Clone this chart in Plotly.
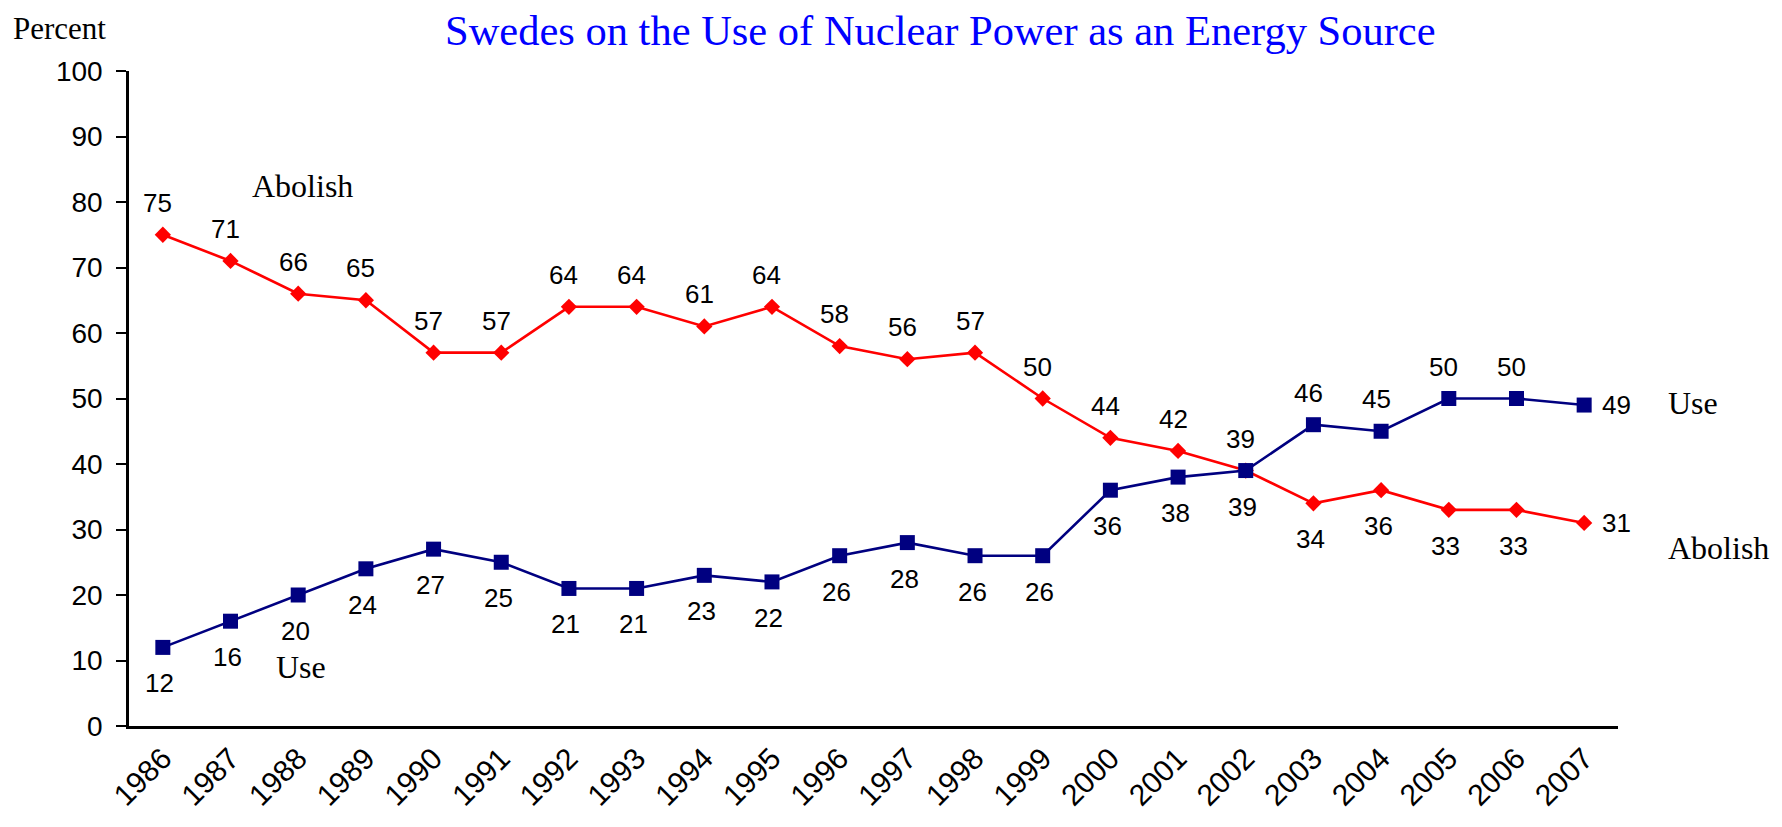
import plotly.graph_objects as go

years = list(range(1986, 2008))
abolish = [75, 71, 66, 65, 57, 57, 64, 64, 61, 64, 58, 56, 57, 50, 44, 42, 39, 34, 36, 33, 33, 31]
use = [12, 16, 20, 24, 27, 25, 21, 21, 23, 22, 26, 28, 26, 26, 36, 38, 39, 46, 45, 50, 50, 49]
y_ticks = list(range(0, 101, 10))

TITLE = "Swedes on the Use of Nuclear Power as an Energy Source"
SANS = "Arial, 'Liberation Sans', sans-serif"
SERIF = "'Times New Roman', 'Liberation Serif', serif"
RED = "#FF0000"
NAVY = "#000080"

fig = go.Figure()
fig.add_trace(go.Scatter(
    x=years, y=abolish, mode="lines+markers", name="Abolish",
    line=dict(color=RED, width=2.6),
    marker=dict(symbol="diamond", size=12.5, color=RED),
    showlegend=False, cliponaxis=False))
fig.add_trace(go.Scatter(
    x=years, y=use, mode="lines+markers", name="Use",
    line=dict(color=NAVY, width=2.6),
    marker=dict(symbol="square", size=15, color=NAVY),
    showlegend=False, cliponaxis=False))

annotations = []
n = len(years)
for i in range(n):
    for series, other, is_abolish in ((abolish, use, True), (use, abolish, False)):
        v = series[i]
        o = other[i]
        if i == n - 1:
            xs, ys = 32, 0
        else:
            above = (v >= o) if is_abolish else (v > o)
            xs, ys = (-5, 32) if above else (-3, -36)
        annotations.append(dict(
            x=years[i], y=v, xref="x", yref="y", text=str(v), showarrow=False,
            xanchor="center", yanchor="middle",
            xshift=xs, yshift=ys, font=dict(family=SANS, size=26, color="black")))

def paper_note(text, x, y, size=32, yanchor="middle"):
    return dict(text=text, x=x, y=y, xref="paper", yref="paper", showarrow=False,
                xanchor="center", yanchor=yanchor,
                font=dict(family=SERIF, size=size, color="black"))

annotations += [
    paper_note("Abolish", 0.1162, 0.824),
    paper_note("Use", 0.1155, 0.090),
    paper_note("Use", 1.0504, 0.493),
    paper_note("Abolish", 1.0672, 0.272),
    # top of the plot area is 63px below the figure top; keep the label box inside the figure
    paper_note("Percent", -0.047, (63 - 1) / 655 + 1, size=31, yanchor="top"),
    # title near the top edge, box kept inside the figure (centre at page x ~940)
    dict(text=TITLE, x=(940 - 129) / 1489, y=(63 + 3) / 655 + 1, xref="paper", yref="paper",
         showarrow=False, xanchor="center", yanchor="top",
         font=dict(family=SERIF, size=42.5, color="#0000FF")),
]

# page body has an 8px margin; compensate so the plot lands where the reference has it
fig.update_layout(
    width=1774, height=819,
    margin=dict(l=121, r=164, t=63, b=101),
    paper_bgcolor="white", plot_bgcolor="white",
    annotations=annotations,
    xaxis=dict(range=[years[0] - 0.5, years[-1] + 0.5], tickvals=years,
               ticktext=[str(y) for y in years], showgrid=False, zeroline=False,
               showline=True, linecolor="black", linewidth=2.5, ticks="",
               tickangle=-45, tickfont=dict(family=SANS, size=30, color="black")),
    yaxis=dict(range=[0, 100], tickvals=y_ticks, showgrid=False, zeroline=False,
               showline=True, linecolor="black", linewidth=2.5, ticks="outside",
               ticklen=10, tickwidth=2, tickcolor="black", ticklabelstandoff=8,
               tickfont=dict(family=SANS, size=28, color="black")),
)

fig.write_html("out.html")
